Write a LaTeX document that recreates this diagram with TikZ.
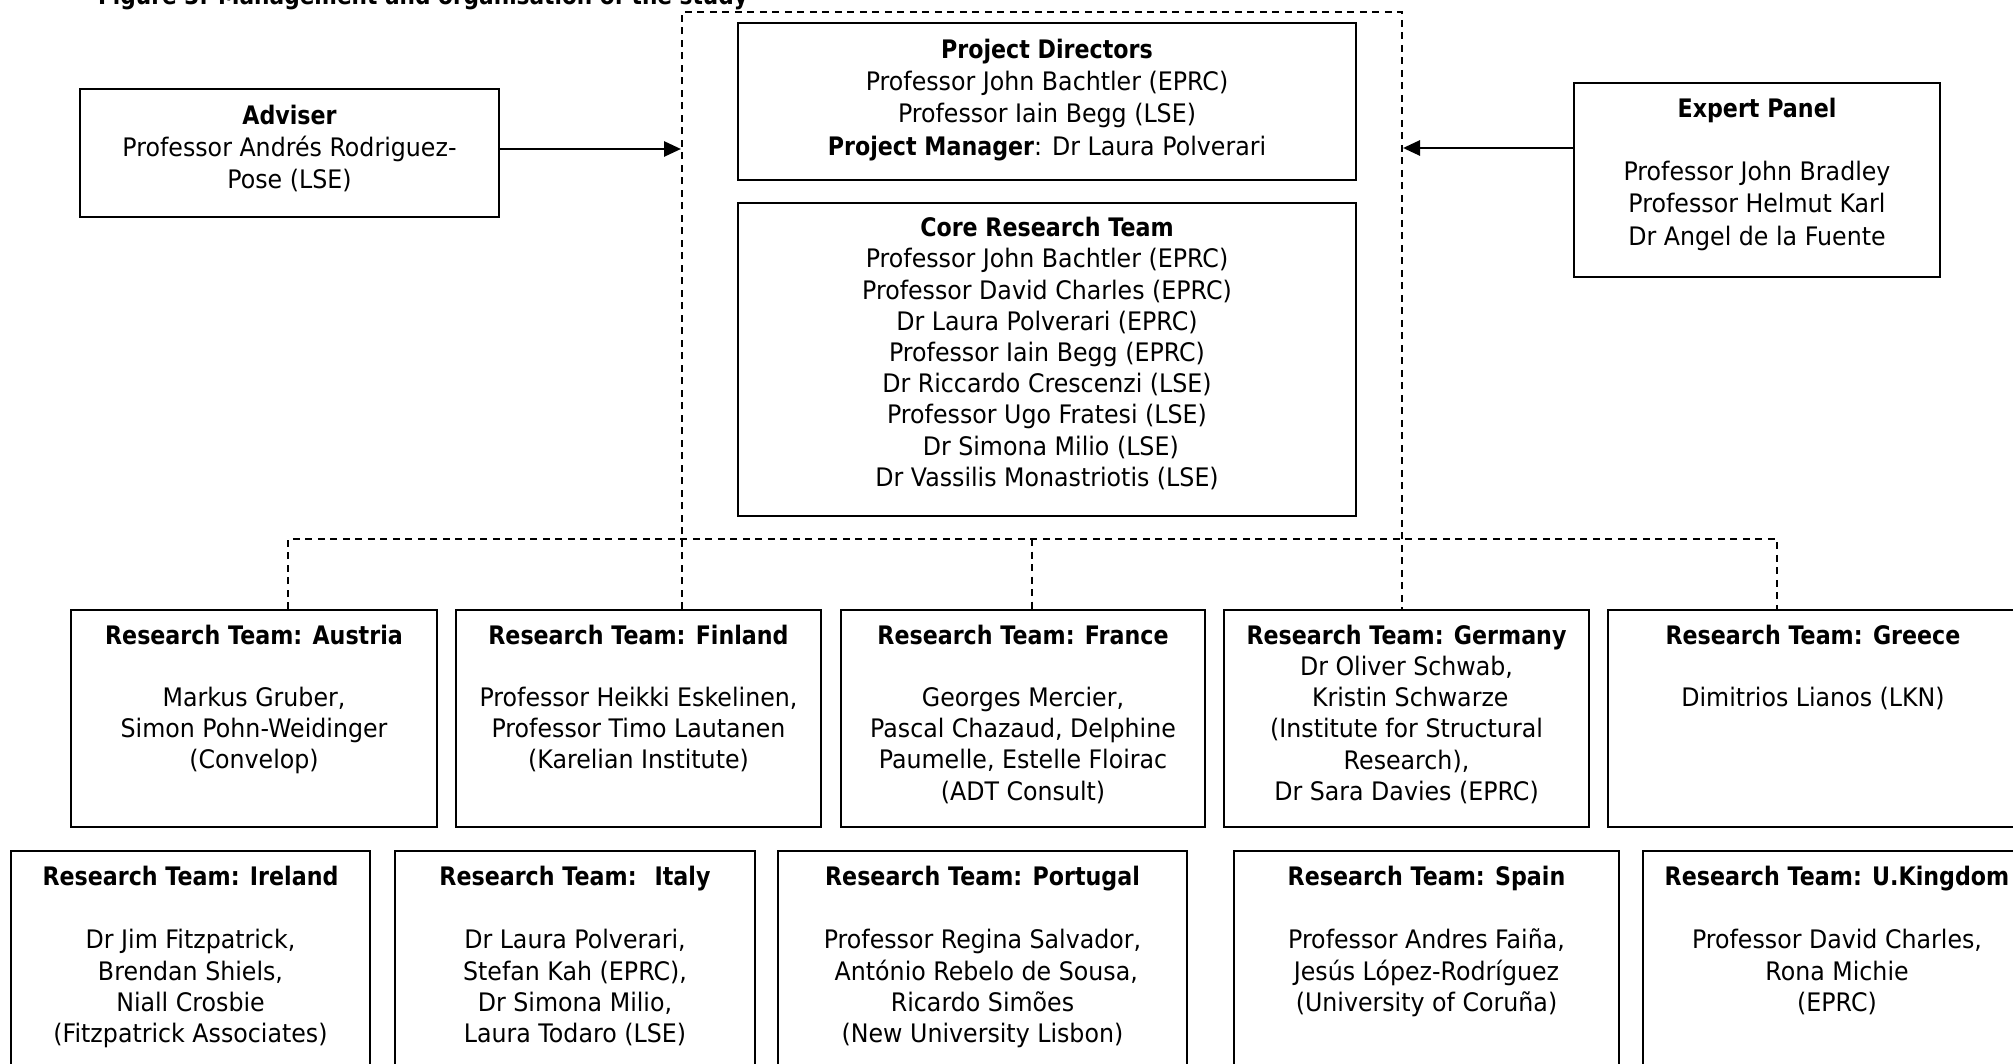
\documentclass[tikz,border=0pt]{standalone}
\usepackage{fontspec}
\setmainfont{DejaVu Sans}[FakeStretch=0.93,BoldFeatures={FakeStretch=0.87}]
\usetikzlibrary{arrows.meta}
\newcommand\fs{\fontsize{25.5pt}{31.2pt}\selectfont}
\newcommand\fsw{\fontsize{25.5pt}{32.4pt}\selectfont}
\newcommand\fscap{\fontsize{24.9pt}{30pt}\selectfont}
\newcommand\tstrut{\rule{0pt}{20pt}}
\begin{document}
\begin{tikzpicture}[x=1pt,y=-1pt,
  box/.style={draw=black, line width=1.7pt, inner sep=0pt},
  txt/.style={inner sep=0pt, align=center, anchor=north, font=\fs},
  dashline/.style={line width=1.8pt, dash pattern=on 7pt off 5.5pt},
  arrowline/.style={line width=2.8pt, -{Triangle[length=17pt,width=15pt]}}]
\useasboundingbox (0,0) rectangle (2013,1064);
% caption
\node[font=\fscap\bfseries, anchor=base west, inner sep=0pt] (cap) at (98,5) {Figure 3: Management and organisation of the study};
% boxes
\node[box, minimum width=618pt, minimum height=157pt] (pd) at (1047,101.5) {};
\node[box, minimum width=618pt, minimum height=313pt] (core) at (1047,359.5) {};
\node[box, minimum width=419pt, minimum height=128pt] (adv) at (289.5,153) {};
\node[box, minimum width=366pt, minimum height=194pt] (exp) at (1757,180) {};
\node[box, minimum width=366pt, minimum height=217pt] (aus) at (254,718.5) {};
\node[box, minimum width=365pt, minimum height=217pt] (fin) at (638.5,718.5) {};
\node[box, minimum width=364pt, minimum height=217pt] (fra) at (1023,718.5) {};
\node[box, minimum width=365pt, minimum height=217pt] (ger) at (1406.5,718.5) {};
\node[box, minimum width=410pt, minimum height=217pt] (gre) at (1813,718.5) {};
\node[box, minimum width=359pt, minimum height=260pt] (ire) at (190.5,981) {};
\node[box, minimum width=360pt, minimum height=260pt] (ita) at (575,981) {};
\node[box, minimum width=409pt, minimum height=260pt] (por) at (982.5,981) {};
\node[box, minimum width=385pt, minimum height=260pt] (spa) at (1426.5,981) {};
\node[box, minimum width=388pt, minimum height=260pt] (uk) at (1837,981) {};
% texts
\node[txt, font=\fsw] (pdT) at (1047,38) {\tstrut\textbf{Project Directors}\\Professor John Bachtler (EPRC)\\Professor Iain Begg (LSE)\\\textbf{Project Manager}: Dr Laura Polverari};
\node[txt] (coreT) at (1047,216.5) {\tstrut\textbf{Core Research Team}\\Professor John Bachtler (EPRC)\\Professor David Charles (EPRC)\\Dr Laura Polverari (EPRC)\\Professor Iain Begg (EPRC)\\Dr Riccardo Crescenzi (LSE)\\Professor Ugo Fratesi (LSE)\\~Dr Simona Milio (LSE)\\Dr Vassilis Monastriotis (LSE)};
\node[txt, font=\fsw] (advT) at (289.5,104) {\tstrut\textbf{Adviser}\\Professor Andrés Rodriguez-\\Pose (LSE)};
\node[txt, font=\fsw] (expT) at (1757,97) {\tstrut\textbf{Expert Panel}\\[31pt]Professor John Bradley\\Professor Helmut Karl\\Dr Angel de la Fuente};
\node[txt] (ausT) at (254,624) {\tstrut\textbf{Research Team: Austria}\\[31pt]Markus Gruber,\\Simon Pohn-Weidinger\\(Convelop)};
\node[txt] (finT) at (638.5,624) {\tstrut\textbf{Research Team: Finland}\\[31pt]Professor Heikki Eskelinen,\\Professor Timo Lautanen\\(Karelian Institute)};
\node[txt] (fraT) at (1023,624) {\tstrut\textbf{Research Team: France}\\[31pt]Georges Mercier,\\Pascal Chazaud, Delphine\\Paumelle, Estelle Floirac\\(ADT Consult)};
\node[txt] (gerT) at (1406.5,624) {\tstrut\textbf{Research Team: Germany}\\Dr Oliver Schwab,\\~Kristin Schwarze\\(Institute for Structural\\Research),\\Dr Sara Davies (EPRC)};
\node[txt] (greT) at (1813,624) {\tstrut\textbf{Research Team: Greece}\\[31pt]Dimitrios Lianos (LKN)};
\node[txt] (ireT) at (190.5,865) {\tstrut\textbf{Research Team: Ireland}\\[32.5pt]Dr Jim Fitzpatrick,\\Brendan Shiels,\\Niall Crosbie\\(Fitzpatrick Associates)};
\node[txt] (itaT) at (575,865) {\tstrut\textbf{Research Team:~ Italy}\\[32.5pt]Dr Laura Polverari,\\Stefan Kah (EPRC),\\Dr Simona Milio,\\Laura Todaro (LSE)};
\node[txt] (porT) at (982.5,865) {\tstrut\textbf{Research Team: Portugal}\\[32.5pt]Professor Regina Salvador,\\~António Rebelo de Sousa,\\Ricardo Simões\\(New University Lisbon)};
\node[txt] (spaT) at (1426.5,865) {\tstrut\textbf{Research Team: Spain}\\[32.5pt]Professor Andres Faiña,\\Jesús López-Rodríguez\\(University of Coruña)};
\node[txt] (ukT) at (1837,865) {\tstrut\textbf{Research Team: U.Kingdom}\\[32.5pt]Professor David Charles,\\Rona Michie\\(EPRC)};
% dashed frame and links
\coordinate (ftl) at (682,12);
\coordinate (ftr) at (1402,12);
\draw[dashline] (fin.north -| ftl) -- (ftl) -- (ftr) -- (ger.north -| ftr);
\coordinate (hl) at (288,539);
\coordinate (hr) at (1777,539);
\draw[dashline] (aus.north -| hl) -- (hl) -- (hr) -- (gre.north -| hr);
\coordinate (hf) at (1032,539);
\draw[dashline] (hf) -- (fra.north -| hf);
% arrows
\coordinate (la) at (681,149);
\coordinate (ra) at (1403,148);
\draw[arrowline] (adv.east |- la) -- (la);
\draw[arrowline] (exp.west |- ra) -- (ra);
\end{tikzpicture}
\end{document}
